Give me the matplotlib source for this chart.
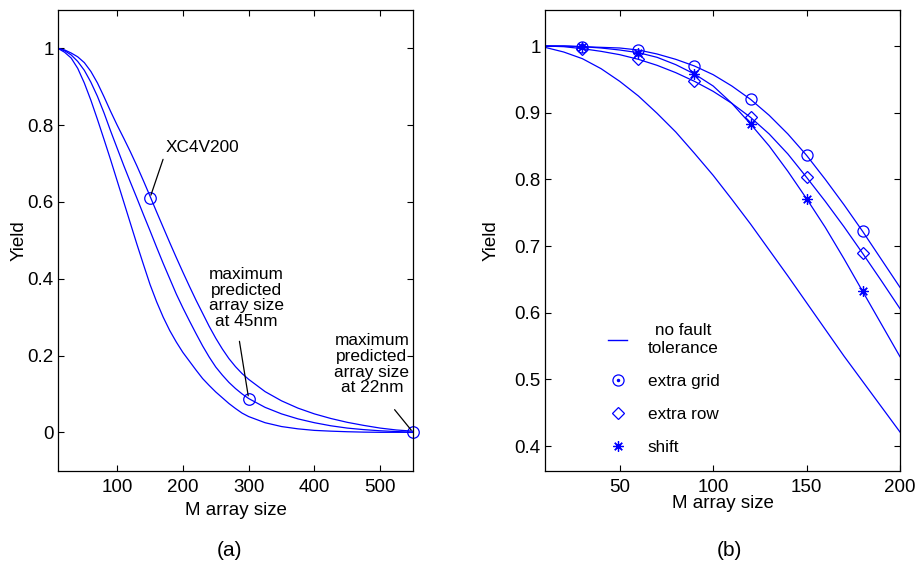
"""Yield versus array size, panels (a) and (b)."""
import matplotlib
matplotlib.use("Agg")
import matplotlib.pyplot as plt
from matplotlib.lines import Line2D
from matplotlib.ticker import FuncFormatter
import numpy as np

# panel (a): yield of three technology curves
m_left = list(range(10, 301, 10)) + list(range(325, 551, 25))
yield_a = [1.0, 0.99, 0.975, 0.948, 0.91, 0.865, 0.815, 0.763, 0.71, 0.655,
           0.60, 0.545, 0.49, 0.437, 0.385, 0.34, 0.30, 0.265, 0.235, 0.208,
           0.185, 0.162, 0.14, 0.122, 0.105, 0.09, 0.075, 0.062, 0.05, 0.041,
           0.025, 0.015, 0.009, 0.005, 0.003, 0.0015, 0.0005, 0.0, 0.0, 0.0]
yield_b = [1.0, 0.994, 0.983, 0.966, 0.943, 0.912, 0.875, 0.832, 0.785, 0.74,
           0.695, 0.652, 0.61, 0.567, 0.525, 0.482, 0.44, 0.40, 0.36, 0.324,
           0.29, 0.257, 0.225, 0.196, 0.17, 0.149, 0.13, 0.114, 0.10, 0.088,
           0.065, 0.048, 0.035, 0.025, 0.017, 0.011, 0.007, 0.004, 0.002, 0.0]
yield_c = [1.0, 0.996, 0.988, 0.978, 0.963, 0.94, 0.91, 0.874, 0.836, 0.80,
           0.766, 0.731, 0.694, 0.655, 0.615, 0.574, 0.534, 0.494, 0.455, 0.417,
           0.38, 0.344, 0.31, 0.276, 0.245, 0.217, 0.192, 0.171, 0.153, 0.138,
           0.106, 0.082, 0.063, 0.048, 0.036, 0.026, 0.018, 0.011, 0.006, 0.003]
marked_m = [150, 300, 550]
marked_yield = [0.611, 0.088, 0.0]

# panel (b): fault tolerance schemes
m_right = list(range(10, 201, 10))
marker_m = [30, 60, 90, 120, 150, 180]
yield_none = [0.998, 0.991, 0.981, 0.966, 0.947, 0.925, 0.899, 0.871, 0.839, 0.806,
              0.770, 0.733, 0.694, 0.655, 0.615, 0.575, 0.535, 0.497, 0.459, 0.421]
yield_grid = [1.0, 1.0, 0.999, 0.998, 0.997, 0.994, 0.988, 0.980, 0.970, 0.957,
              0.940, 0.920, 0.896, 0.868, 0.836, 0.800, 0.762, 0.722, 0.680, 0.638]
yield_row = [1.0, 0.999, 0.996, 0.992, 0.987, 0.980, 0.971, 0.960, 0.947, 0.932,
             0.914, 0.893, 0.868, 0.838, 0.803, 0.767, 0.729, 0.689, 0.648, 0.606]
yield_shift = [1.0, 1.0, 0.999, 0.997, 0.994, 0.990, 0.983, 0.972, 0.958, 0.940,
               0.914, 0.883, 0.850, 0.812, 0.771, 0.728, 0.681, 0.632, 0.583, 0.534]
legend_labels = ["no fault\ntolerance", "extra grid", "extra row", "shift"]

BLUE = "#0000ff"
ASTERISK = (8, 2, 0)

plt.rcParams["font.family"] = ["Liberation Sans", "DejaVu Sans"]
plt.rcParams["font.size"] = 13.5

W, H = 918, 564
fig = plt.figure(figsize=(W / 100, H / 100), dpi=100)
ax1 = fig.add_axes([58 / W, 1 - 470.7 / H, 355 / W, 460.7 / H])
ax2 = fig.add_axes([545 / W, 1 - 470.7 / H, 355 / W, 460.7 / H])

fmt = FuncFormatter(lambda v, pos: "%g" % round(v, 3))
for ax in (ax1, ax2):
    ax.tick_params(direction="in", top=True, right=True, length=4, width=0.8)
    ax.tick_params(axis="x", pad=6)
    ax.tick_params(axis="y", pad=3)
    ax.yaxis.set_major_formatter(fmt)
    for s in ax.spines.values():
        s.set_linewidth(0.9)

# ---- (a)
for y in (yield_a, yield_b, yield_c):
    ax1.plot(m_left, y, color=BLUE, lw=0.9)
ax1.plot(marked_m, marked_yield, "o", mfc="none", mec=BLUE, ms=8.3, mew=0.9, clip_on=False)

note = dict(fontsize=12.4, ha="center", va="center", linespacing=1.05)
line = dict(arrowstyle="-", color="black", lw=0.9, shrinkA=0, shrinkB=2)
ax1.annotate("", xy=(marked_m[0], marked_yield[0]), xytext=(169.8, 0.711), arrowprops=line)
ax1.text(173, 0.742, "XC4V200", fontsize=12.4, ha="left", va="center")
ax1.annotate("", xy=(marked_m[1], marked_yield[1]), xytext=(286, 0.237), arrowprops=line)
ax1.text(296, 0.35, "maximum\npredicted\narray size\nat 45nm", **note)
ax1.annotate("", xy=(marked_m[2], marked_yield[2]), xytext=(522, 0.059), arrowprops=line)
ax1.text(487.5, 0.177, "maximum\npredicted\narray size\nat 22nm", **note)

ax1.set_xlim(10, 550)
ax1.set_ylim(-0.1, 1.1)
ax1.set_xticks([100, 200, 300, 400, 500])
ax1.set_yticks([0, 0.2, 0.4, 0.6, 0.8, 1.0])
ax1.set_xlabel("M array size", labelpad=4)
ax1.set_ylabel("Yield", labelpad=0)

# ---- (b)
ax2.plot(m_right, yield_none, color=BLUE, lw=0.9)
mask = np.isin(m_right, marker_m)
series = [(yield_grid, "o", 8.0), (yield_row, "D", 6.0), (yield_shift, ASTERISK, 7.5)]
for y, mk, size in series:
    y = np.asarray(y)
    ax2.plot(m_right, y, color=BLUE, lw=0.9)
    ax2.plot(np.asarray(m_right)[mask], y[mask], linestyle="none", marker=mk, ms=size,
             mfc="none", mec=BLUE, mew=0.9)

ax2.set_xlim(10, 200)
ax2.set_ylim(0.363, 1.054)
ax2.set_xticks([50, 100, 150, 200])
ax2.set_yticks([0.4, 0.5, 0.6, 0.7, 0.8, 0.9, 1.0])
ax2.set_xlabel("M array size", labelpad=-1)
ax2.set_ylabel("Yield", labelpad=11)

handles = [
    Line2D([], [], color=BLUE, lw=1.0),
    (Line2D([], [], ls="none", marker="o", ms=8, mfc="none", mec=BLUE, mew=0.9),
     Line2D([], [], ls="none", marker=".", ms=3, color=BLUE)),
    Line2D([], [], ls="none", marker="D", ms=6, mfc="none", mec=BLUE, mew=0.9),
    Line2D([], [], ls="none", marker=ASTERISK, ms=7.5, mec=BLUE, mew=0.9),
]
leg = ax2.legend(handles, legend_labels, loc="center", frameon=False, fontsize=12.3,
                 bbox_to_anchor=(664 / W, 1 - 389 / H), bbox_transform=fig.transFigure,
                 handlelength=1.1, handletextpad=1.2, labelspacing=1.05, borderpad=0)
leg.get_texts()[0].set_multialignment("center")
leg.get_texts()[0].set_linespacing(1.3)

fig.text(230 / W, 1 - 550 / H, "(a)", fontsize=15, ha="center", va="center")
fig.text(729 / W, 1 - 550 / H, "(b)", fontsize=15, ha="center", va="center")

fig.savefig("out.png", dpi=100)
